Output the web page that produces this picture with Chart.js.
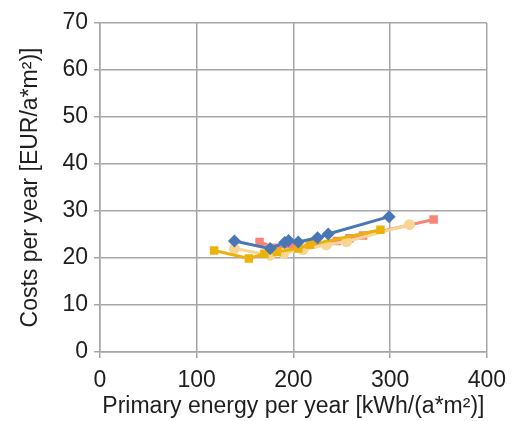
<!DOCTYPE html>
<html>
<head>
<meta charset="utf-8">
<script src="https://cdn.jsdelivr.net/npm/chart.js@4"></script>
<style>
  html, body { margin: 0; padding: 0; background: #fff; }
  #wrap { width: 515px; height: 421px; }
</style>
</head>
<body>
<div id="wrap"><canvas id="c"></canvas></div>
<script>
// values
const blueX = [139, 176, 191, 195, 205, 225, 236, 299];
const blueY = [23.6, 22.0, 23.3, 23.7, 23.4, 24.3, 25.1, 28.8];
const salmonX = [165, 180, 200, 220, 245, 258, 272, 345];
const salmonY = [23.4, 22.2, 22.4, 23.0, 23.6, 24.2, 24.8, 28.2];
const peachX = [139, 176, 190, 210, 234, 255, 320];
const peachY = [22.0, 20.6, 21.0, 21.8, 22.8, 23.5, 27.1];
const goldX = [118, 154, 170, 183, 205, 217, 290];
const goldY = [21.6, 19.9, 20.9, 21.3, 22.0, 22.8, 26.0];

const xTicks = [0, 100, 200, 300, 400];
const yTicks = [0, 10, 20, 30, 40, 50, 60, 70];

const pts = (xs, ys) => xs.map((x, i) => ({ x, y: ys[i] }));

const font = { family: '"Liberation Sans", Arial, sans-serif', size: 23 };
const textColor = '#1e1e1e';
const gridColor = '#a6a6a6';

function series(xs, ys, color, style, radius) {
    return {
        data: pts(xs, ys),
        showLine: true,
        borderColor: color,
        backgroundColor: color,
        borderWidth: 3,
        pointStyle: style,
        pointRadius: radius,
        pointBorderWidth: 0,
    };
}

new Chart(document.getElementById('c'), {
    type: 'scatter',
    data: {
        datasets: [
            series(blueX, blueY, '#4a77b4', 'rectRot', 6.5),
            series(goldX, goldY, '#eab20a', 'rect', 6),
            series(peachX, peachY, '#f9d594', 'circle', 5.5),
            series(salmonX, salmonY, '#f88479', 'rect', 6),
        ],
    },
    options: {
        responsive: true,
        maintainAspectRatio: false,
        animation: false,
        layout: { padding: { top: 23, right: 28, left: 4, bottom: 1 } },
        plugins: { legend: { display: false }, tooltip: { enabled: false } },
        scales: {
            x: {
                type: 'linear',
                min: 0,
                max: 400,
                afterBuildTicks: (axis) => { axis.ticks = xTicks.map(v => ({ value: v })); },
                afterFit: (axis) => { axis.height = 68; },
                grid: { color: gridColor, lineWidth: 1.5, tickLength: 6 },
                border: { color: gridColor, width: 1.5 },
                ticks: { font, color: textColor, padding: 9 },
                title: {
                    display: true,
                    text: 'Primary energy per year [kWh/(a*m²)]',
                    font, color: textColor, padding: { top: 0, bottom: 0 },
                },
            },
            y: {
                type: 'linear',
                min: 0,
                max: 70,
                afterBuildTicks: (axis) => { axis.ticks = yTicks.map(v => ({ value: v })); },
                afterFit: (axis) => { axis.width = 96; },
                grid: { color: gridColor, lineWidth: 1.5, tickLength: 6 },
                border: { color: gridColor, width: 1.5 },
                ticks: { font, color: textColor, padding: 6 },
                title: {
                    display: true,
                    text: 'Costs per year [EUR/a*m²)]',
                    font, color: textColor, padding: { top: 13, bottom: 0 },
                },
            },
        },
    },
});
</script>
</body>
</html>
